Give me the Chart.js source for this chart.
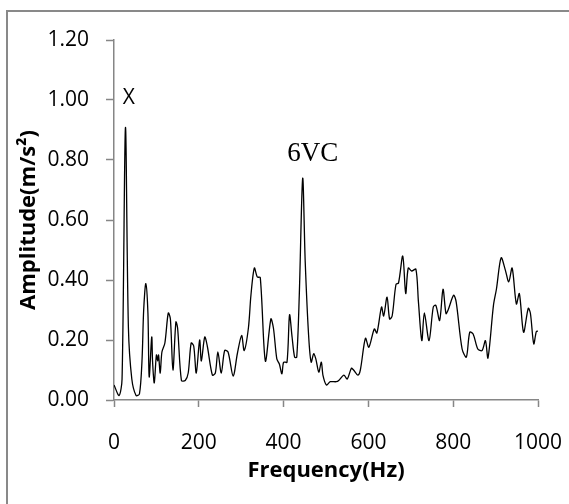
<!DOCTYPE html>
<html>
<head>
<meta charset="utf-8">
<script src="https://cdn.jsdelivr.net/npm/chart.js@4.4.1/dist/chart.umd.min.js"></script>
<style>
    html, body { margin: 0; padding: 0; background: #fff; overflow: hidden; }
    #wrap { position: relative; width: 569px; height: 504px; }
    #frame { position: absolute; left: 6px; top: 10px; width: 600px; height: 600px;
             border-top: 2px solid #898989; border-left: 2px solid #898989; }
    canvas { position: absolute; left: 0; top: 0; }
</style>
</head>
<body>
<div id="wrap">
    <div id="frame"></div>
    <canvas id="spectrum" width="569" height="504"></canvas>
</div>
<script>
// frequency (Hz) and amplitude (m/s^2)
const freq = [0, 12, 19, 27, 34, 42, 52, 60, 66, 70, 75, 80, 83, 89, 91, 95, 100, 103, 105, 109, 113,
    120, 128, 133, 139, 146, 150, 159, 168, 175, 182, 188, 194, 202, 206, 214, 220, 232, 239, 245, 253,
    261, 269, 281, 291, 301, 307, 317, 323, 331, 338, 345, 357, 370, 376, 384, 390, 396, 400, 408, 414,
    420, 426, 431, 437, 445, 451, 459, 465, 471, 476, 483, 489, 493, 501, 510, 524, 530, 542, 550, 560,
    565, 575, 581, 593, 601, 614, 620, 631, 636, 644, 650, 656, 665, 671, 681, 688, 694, 702, 712, 718,
    726, 732, 743, 753, 759, 768, 776, 783, 788, 801, 807, 821, 831, 839, 847, 858, 868, 876, 882, 895,
    902, 913, 923, 931, 939, 949, 956, 966, 977, 982, 990, 996, 1000];
const amp = [0.05, 0.015, 0.07, 0.908, 0.24, 0.07, 0.015, 0.02, 0.13, 0.30, 0.388, 0.29, 0.077, 0.21, 0.127, 0.057, 0.15, 0.13, 0.15, 0.09, 0.16,
    0.19, 0.29, 0.27, 0.10, 0.26, 0.24, 0.065, 0.065, 0.09, 0.19, 0.18, 0.09, 0.20, 0.13, 0.21, 0.18, 0.083, 0.09, 0.16, 0.09,
    0.165, 0.16, 0.08, 0.155, 0.215, 0.165, 0.24, 0.35, 0.44, 0.41, 0.408, 0.13, 0.27, 0.24, 0.137, 0.12, 0.087, 0.126, 0.126, 0.284,
    0.21, 0.143, 0.143, 0.35, 0.739, 0.46, 0.215, 0.126, 0.154, 0.137, 0.093, 0.126, 0.081, 0.05, 0.061, 0.061, 0.065, 0.083, 0.07, 0.106,
    0.10, 0.083, 0.10, 0.206, 0.176, 0.237, 0.223, 0.31, 0.28, 0.343, 0.27, 0.28, 0.385, 0.39, 0.48, 0.355, 0.44, 0.43, 0.436, 0.327,
    0.198, 0.29, 0.198, 0.31, 0.316, 0.265, 0.369, 0.288, 0.30, 0.349, 0.327, 0.17, 0.143, 0.226, 0.22, 0.17, 0.165, 0.198, 0.14, 0.316,
    0.37, 0.474, 0.433, 0.394, 0.44, 0.32, 0.355, 0.226, 0.306, 0.29, 0.187, 0.228, 0.23];

const xTicks = [0, 200, 400, 600, 800, 1000];
const yTicks = [0, 0.2, 0.4, 0.6, 0.8, 1.0, 1.2];

// peak labels: text, frequency, amplitude
const peakText = ['X', '6VC'];
const peakFreq = [35, 469];
const peakAmp = [1.008, 0.82];
const peakFont = ['21px "Open Sans"', '27px "Liberation Serif"'];

const axisGray = '#868686';

const peakLabels = {
    id: 'peakLabels',
    afterDatasetsDraw(chart) {
        const ctx = chart.ctx;
        const xs = chart.scales.x, ys = chart.scales.y;
        ctx.save();
        ctx.fillStyle = '#000';
        ctx.textAlign = 'center';
        ctx.textBaseline = 'middle';
        peakText.forEach((t, i) => {
            ctx.font = peakFont[i];
            ctx.fillText(t, xs.getPixelForValue(peakFreq[i]), ys.getPixelForValue(peakAmp[i]));
        });
        ctx.restore();
    }
};

const ctx = document.getElementById('spectrum').getContext('2d');
new Chart(ctx, {
    type: 'scatter',
    data: {
        datasets: [{
            data: freq.map((f, i) => ({ x: f, y: amp[i] })),
            showLine: true,
            borderColor: '#000',
            borderWidth: 1.3,
            pointRadius: 0,
            tension: 0.3,
            fill: false
        }]
    },
    options: {
        responsive: false,
        animation: false,
        layout: { padding: { left: 0, top: 40, right: 31, bottom: 0 } },
        plugins: { legend: { display: false }, tooltip: { enabled: false } },
        scales: {
            x: {
                type: 'linear',
                min: 0,
                max: 1000,
                afterBuildTicks: s => { s.ticks = xTicks.map(v => ({ value: v })); },
                afterFit: s => { s.height = 104; s.paddingLeft = 0; s.paddingRight = 0; },
                grid: { display: true, drawOnChartArea: false, color: axisGray, tickLength: 7, tickWidth: 1.5 },
                border: { color: axisGray, width: 1.5 },
                ticks: { color: '#000', padding: 23, maxRotation: 0, font: { family: 'Open Sans', size: 21 },
                         callback: v => String(v) },
                title: { display: true, text: 'Frequency(Hz)', color: '#000', padding: { top: 0, bottom: 20 },
                         font: { family: 'Open Sans', size: 22, weight: 'bold' } }
            },
            y: {
                min: 0,
                max: 1.2,
                afterBuildTicks: s => { s.ticks = yTicks.map(v => ({ value: v })); },
                afterFit: s => { s.width = 114; },
                grid: { display: true, drawOnChartArea: false, color: axisGray, tickLength: 8, tickWidth: 1.5 },
                border: { color: axisGray, width: 1.5 },
                ticks: { color: '#000', padding: 17, font: { family: 'Open Sans', size: 21 },
                         callback: v => v.toFixed(2) },
                title: { display: true, text: 'Amplitude(m/s²)', color: '#000', padding: { top: 16, bottom: 0 },
                         font: { family: 'Open Sans', size: 22, weight: 'bold' } }
            }
        }
    },
    plugins: [peakLabels]
});
</script>
</body>
</html>
